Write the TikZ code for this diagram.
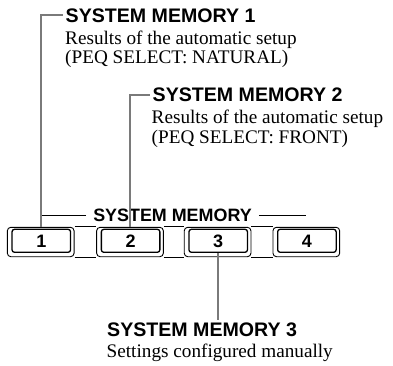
\documentclass[tikz,border=0pt]{standalone}
\usepackage{fontspec}
\setmainfont{Liberation Serif}
\setsansfont{Liberation Sans}
\usepackage{tikz}
\usetikzlibrary{calc}
\colorlet{leadergray}{black!52}
\newcommand{\memkey}[3]{%
  \node[keyouter] (#1) at (#2,242) {};
  \node[keyinner] (#1in) at ([xshift=0.6pt,yshift=1.2pt]#1.center) {};
  \node[keydigit] (#1num) at ([yshift=-0.6pt]#1in.center) {#3};}

\begin{document}
\begin{tikzpicture}[x=1pt,y={(0pt,-1pt)},
  keyouter/.style={draw,fill=white,line width=0.9pt,rounded corners=3.5pt,minimum width=66.7pt,minimum height=29.4pt,inner sep=0pt},
  keyinner/.style={draw,line width=1.3pt,rounded corners=2.5pt,minimum width=58.5pt,minimum height=23pt,inner sep=0pt},
  keydigit/.style={font=\sffamily\bfseries\fontsize{18}{18}\selectfont,inner sep=0pt},
  memtitle/.style={font=\sffamily\bfseries\fontsize{19.6}{20}\selectfont,inner sep=0pt,anchor=base west},
  membody/.style={font=\fontsize{19.2}{20}\selectfont,inner sep=0pt,anchor=base west},
  leader/.style={draw=leadergray,line width=1.9pt}]
\useasboundingbox (0,0) rectangle (393,365);
% keys
\memkey{key1}{40.7}{1}
\memkey{key2}{130}{2}
\memkey{key3}{217.6}{3}
\memkey{key4}{306.3}{4}
\foreach \a/\b in {key1/key2,key2/key3,key3/key4}{
  \draw[line width=0.9pt] (\a.north east) -- (\b.north west);
  \draw[line width=0.9pt] (\a.south east) -- (\b.south west);}
\node[font=\sffamily\bfseries\fontsize{17.9}{18}\selectfont,inner xsep=7pt,inner ysep=0pt,anchor=base] (memlabel) at (172.5,221.5) {SYSTEM MEMORY};
\draw[line width=0.8pt] (memlabel.west) -- (memlabel.west -| key1.center);
\draw[line width=0.8pt] (memlabel.east) -- (memlabel.east -| key4.center);
% memory 1
\node[memtitle] (title1) at (65.5,22) {SYSTEM MEMORY 1};
\node[membody] (body1a) at (65,44) {Results of the automatic setup};
\node[membody] (body1b) at (65,63.5) {(PEQ SELECT: NATURAL)};
\draw[leader] (key1.north) |- ([xshift=-3pt]title1.west);
% memory 2
\node[memtitle] (title2) at (152.5,101.5) {SYSTEM MEMORY 2};
\node[membody] (body2a) at (151.5,123.5) {Results of the automatic setup};
\node[membody] (body2b) at (151.5,143) {(PEQ SELECT: FRONT)};
\draw[leader] (key2.north) |- ([xshift=-3pt]title2.west);
% memory 3
\node[memtitle] (title3) at (107,336) {SYSTEM MEMORY 3};
\node[membody] (body3) at (106.5,357.5) {Settings configured manually};
\draw[leader] (key3in.south) -- ([yshift=2pt]key3in.south |- title3.north);
\end{tikzpicture}
\end{document}
